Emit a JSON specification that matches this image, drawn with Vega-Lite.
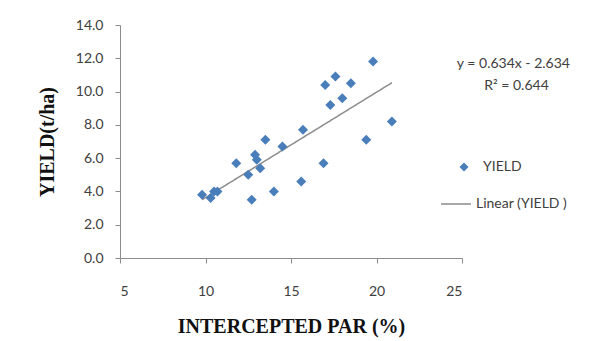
{
  "$schema": "https://vega.github.io/schema/vega-lite/v6.json",
  "width": 342,
  "height": 233,
  "autosize": {"type": "none"},
  "padding": {"left": 120, "top": 25, "right": 139, "bottom": 83},
  "background": "white",
  "config": {
    "view": {"stroke": null},
    "axis": {"grid": false, "domainColor": "#8c8c8c", "tickColor": "#8c8c8c", "tickSize": 5, "labelFont": "Lato", "labelFontSize": 14, "labelColor": "#404040", "labelOverlap": false, "titleFont": "Liberation Serif", "titleFontWeight": "bold", "titleFontSize": 20, "titleColor": "#111111"},
    "legend": {"labelFont": "Lato", "labelFontSize": 14, "labelColor": "#404040", "padding": 0}
  },
  "datasets": {
    "pts": [
      {"par": 9.8, "yield": 3.8, "series": "YIELD"},
      {"par": 10.3, "yield": 3.6, "series": "YIELD"},
      {"par": 10.5, "yield": 4.0, "series": "YIELD"},
      {"par": 10.7, "yield": 4.0, "series": "YIELD"},
      {"par": 11.8, "yield": 5.7, "series": "YIELD"},
      {"par": 12.5, "yield": 5.0, "series": "YIELD"},
      {"par": 12.7, "yield": 3.5, "series": "YIELD"},
      {"par": 12.9, "yield": 6.2, "series": "YIELD"},
      {"par": 13.0, "yield": 5.9, "series": "YIELD"},
      {"par": 13.2, "yield": 5.4, "series": "YIELD"},
      {"par": 13.5, "yield": 7.1, "series": "YIELD"},
      {"par": 14.0, "yield": 4.0, "series": "YIELD"},
      {"par": 14.5, "yield": 6.7, "series": "YIELD"},
      {"par": 15.6, "yield": 4.6, "series": "YIELD"},
      {"par": 15.7, "yield": 7.7, "series": "YIELD"},
      {"par": 16.9, "yield": 5.7, "series": "YIELD"},
      {"par": 17.0, "yield": 10.4, "series": "YIELD"},
      {"par": 17.3, "yield": 9.2, "series": "YIELD"},
      {"par": 17.6, "yield": 10.9, "series": "YIELD"},
      {"par": 18.0, "yield": 9.6, "series": "YIELD"},
      {"par": 18.5, "yield": 10.5, "series": "YIELD"},
      {"par": 19.4, "yield": 7.1, "series": "YIELD"},
      {"par": 19.8, "yield": 11.8, "series": "YIELD"},
      {"par": 20.9, "yield": 8.2, "series": "YIELD"}
    ],
    "eq": [
      {"par": 24.7, "yield": 11.66, "label": "y = 0.634x - 2.634"},
      {"par": 26.3, "yield": 10.34, "label": "R² = 0.644"}
    ]
  },
  "encoding": {
    "x": {"field": "par", "type": "quantitative", "scale": {"domain": [5, 25], "nice": false, "zero": false},
      "axis": {"values": [5, 10, 15, 20, 25], "title": "INTERCEPTED PAR (%)", "labelPadding": 21, "titlePadding": 18, "labelOverlap": false}},
    "y": {"field": "yield", "type": "quantitative", "scale": {"domain": [0, 14], "nice": false},
      "axis": {"values": [0, 2, 4, 6, 8, 10, 12, 14], "format": ".1f", "title": "YIELD(t/ha)", "labelPadding": 12, "titlePadding": 18, "labelOverlap": false, "labelFlush": false}}
  },
  "layer": [
    {
      "data": {"name": "pts"},
      "transform": [{"regression": "yield", "on": "par"}],
      "mark": {"type": "line", "strokeWidth": 1.5, "color": "#8c8c8c"},
      "encoding": {
        "strokeDash": {"datum": "Linear (YIELD )", "scale": {"range": [[1, 0]]},
          "legend": {"title": null, "orient": "none", "legendX": 320, "legendY": 163, "symbolSize": 900, "symbolStrokeWidth": 1.5, "symbolStrokeColor": "#8c8c8c", "labelOffset": 4}}
      }
    },
    {
      "data": {"name": "pts"},
      "mark": {"type": "point", "shape": "diamond", "filled": true, "size": 100, "opacity": 1, "color": "#4a7ebb"},
      "encoding": {
        "shape": {"field": "series", "type": "nominal", "scale": {"range": ["diamond"]},
          "legend": {"title": null, "orient": "none", "legendX": 337, "legendY": 135, "symbolSize": 80, "symbolFillColor": "#4a7ebb", "symbolStrokeWidth": 0, "labelOffset": 12}}
      }
    },
    {
      "data": {"name": "eq"},
      "mark": {"type": "text", "align": "left", "baseline": "middle", "font": "Lato", "fontSize": 14, "color": "#404040", "clip": false},
      "encoding": {
        "text": {"field": "label"}
      }
    }
  ]
}
